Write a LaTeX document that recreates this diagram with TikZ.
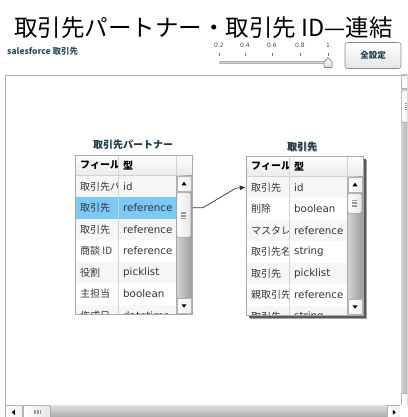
\documentclass[tikz,border=0pt]{standalone}
\usepackage{fontspec}
\setmainfont{DejaVu Sans}
\newfontfamily\jp{Noto Sans CJK JP}
\usetikzlibrary{arrows.meta,calc}
\definecolor{bordr}{HTML}{A8A8A8}
\definecolor{gridc}{HTML}{D2D2D2}
\definecolor{hilite}{HTML}{7CC9F5}
\definecolor{txt}{HTML}{333333}
\definecolor{ttl}{HTML}{1E3A48}
\definecolor{sfc}{HTML}{2B4F5F}
\definecolor{rowodd}{HTML}{F6F6F6}
\definecolor{sbL}{HTML}{D6D6D6}
\definecolor{sbM}{HTML}{BDBDBD}
\definecolor{sbR}{HTML}{9C9C9C}
\tikzset{
  jpcell/.style={anchor=west, inner sep=0pt, font=\jp\fontsize{10}{12}\selectfont, text=txt},
  lacell/.style={anchor=west, inner sep=0pt, font=\fontsize{10.3}{12}\selectfont, text=txt},
  hdrtxt/.style={anchor=west, inner sep=0pt, font=\jp\bfseries\fontsize{10}{12}\selectfont, text=black},
  rowbox/.style={inner sep=0pt, minimum width=101pt, minimum height=21.5pt, draw=none},
  tblframe/.style={inner sep=0pt, draw=bordr, line width=0.8pt, fill=white},
  hdrbox/.style={inner sep=0pt, minimum width=117pt, minimum height=20.5pt, top color=white, bottom color=black!8, draw=none},
  sbbtn/.style={inner sep=0pt, minimum width=14.5pt, minimum height=15pt, draw=black!30, line width=0.5pt, left color=white, right color=black!6},
  thumbbox/.style={inner sep=0pt, minimum width=14pt, draw=black!40, line width=0.5pt, rounded corners=1.5pt, left color=white, right color=black!10},
  grip/.style={draw=black!40, line width=0.5pt},
  conn/.style={draw=black!80, line width=0.7pt, -{Latex[length=6pt,width=5pt]}},
  tbltitle/.style={inner sep=0pt, font=\jp\bfseries\fontsize{10}{12}\selectfont, text=ttl},
  slab/.style={inner sep=0pt, font=\fontsize{6}{7}\selectfont, text=black!70},
}
\begin{document}
\begin{tikzpicture}[x=1pt,y=-1pt]
\clip (0,0) rectangle (407,417);
\fill[white] (0,0) rectangle (407,417);

% ---------- header area ----------
\node[inner sep=0pt, anchor=west, font=\jp\fontsize{23.5}{26}\selectfont] (title) at (14,27.5) {取引先パートナー・取引先 ID—連結};
\node[inner sep=0pt, anchor=west, font=\jp\bfseries\fontsize{8.5}{10}\selectfont, text=sfc] (sf) at (7,51) {salesforce 取引先};

% slider
\foreach \x/\l [count=\k] in {219/0.2,245/0.4,272/0.6,300/0.8,328/1}{
  \node[slab] (sl\k) at (\x,45.5) {\l};
  \draw[black!55, line width=0.6pt] (\x,53) -- (\x,56);
}
\draw[line width=3pt, line cap=round, black!30] (220,63) -- (328,63);
\draw[line width=1.2pt, line cap=round, black!18] (220,62.3) -- (328,62.3);
\filldraw[draw=black!55, line width=0.5pt, top color=white, bottom color=black!15] (324,67.5) -- (324,62) -- (328,57.5) -- (332,62) -- (332,67.5) -- cycle;

% button
\node[inner sep=0pt, minimum width=56pt, minimum height=26pt, rounded corners=2.5pt, draw=black!45, line width=0.6pt, top color=white, bottom color=black!10, font=\jp\bfseries\fontsize{8.5}{10}\selectfont, text=ttl] (btn) at (373,55.5) {全設定};

% ---------- panel ----------
\draw[black!32, line width=0.8pt] (5,417) -- (5,75) -- (401,75);

% right scrollbar
\fill[left color=sbL, right color=sbR] (401,75) rectangle (412,405);
\node[sbbtn, anchor=north west, minimum width=11pt, minimum height=13pt] (vup) at (401,75) {};
\node[thumbbox, anchor=north west, minimum width=11pt, minimum height=32pt] (vth) at (401,90) {};
\foreach \d in {-3,-1,1,3}{\draw[grip] ($(vth.center)+(-2,\d)$) -- ++(4,0);}
\node[sbbtn, anchor=north west, minimum width=11pt, minimum height=12pt] (vdn) at (401,393) {};

% bottom scrollbar
\fill[top color=black!12, bottom color=black!38] (5,405) rectangle (400,420);
\node[sbbtn, anchor=north west, minimum width=17pt, minimum height=14pt] (hl) at (5,405) {};
\fill[black] ($(hl.center)+(-2,0)$) -- ++(3,-2.5) -- ++(0,5) -- cycle;
\node[thumbbox, anchor=north west, minimum width=27pt, minimum height=14pt] (hth) at (23,405) {};
\foreach \d in {-3,-1.5,0,1.5,3}{\draw[grip] ($(hth.center)+(\d,-2)$) -- ++(0,4);}
\node[sbbtn, anchor=north west, minimum width=13pt, minimum height=14pt] (hr) at (387,405) {};
\fill[black] ($(hr.center)+(2,0)$) -- ++(-3,-2.5) -- ++(0,5) -- cycle;
\fill[white] (400,405) rectangle (412,420);

% ---------- table 1 ----------
\node[tbltitle] (t1title) at (133,145) {取引先パートナー};
\begin{scope}[shift={(75,155)}]
  \node[tblframe, minimum width=117pt, minimum height=159pt, anchor=north west] (t1) at (0,0) {};
  \begin{scope}
    \clip (0,0) rectangle (117,159);
    \node[hdrbox, anchor=north west] (t1h) at (0,0) {};
    \foreach \i/\a/\b/\f in {1/取引先パ/id/rowodd, 2/取引先/reference/hilite, 3/取引先/reference/rowodd, 4/{商談 ID}/reference/white, 5/役割/picklist/rowodd, 6/主担当/boolean/white, 7/作成日/datetime/rowodd}{
      \pgfmathsetmacro\yc{20.5+21.5*(\i-1)+10.75}
      \node[rowbox, fill=\f] (t1r\i) at (50.5,\yc) {};
      \begin{scope}\clip (0,20.5) rectangle (42.5,159);
        \node[jpcell] (t1a\i) at (5,\yc) {\a};
      \end{scope}
      \begin{scope}\clip (43,20.5) rectangle (100.5,159);
        \node[lacell] (t1b\i) at (48,\yc) {\b};
      \end{scope}
    }
    \begin{scope}\clip (0,0) rectangle (42.5,20.5);
      \node[hdrtxt] (t1hA) at (5,10.5) {フィール};
    \end{scope}
    \node[hdrtxt] (t1hB) at (48,10.5) {型};
    \draw[gridc, line width=0.6pt] (0,20.5) -- (117,20.5);
    \draw[gridc, line width=0.6pt] (43,0) -- (43,159);
    \draw[gridc, line width=0.6pt] (101,0) -- (101,20.5);
    % scrollbar
    \fill[left color=sbL, middle color=sbM, right color=sbR] (101,20.5) rectangle (117,159);
    \draw[black!35, line width=0.5pt] (101,20.5) -- (101,159);
    \node[sbbtn, anchor=north west] (t1up) at (101.5,21) {};
    \fill[black] ($(t1up.center)+(0,-2)$) -- ++(2.5,3.5) -- ++(-5,0) -- cycle;
    \node[thumbbox, anchor=north west, minimum height=45pt] (t1th) at (101.5,37) {};
    \foreach \d in {-3,-1.5,0,1.5,3}{\draw[grip] ($(t1th.center)+(-2.5,\d)$) -- ++(5,0);}
    \node[sbbtn, anchor=south west] (t1dn) at (101.5,158.5) {};
    \fill[black] ($(t1dn.center)+(0,2)$) -- ++(2.5,-3.5) -- ++(-5,0) -- cycle;
  \end{scope}
  \draw[bordr, line width=0.8pt] (t1.north west) rectangle (t1.south east);
\end{scope}

% ---------- table 2 ----------
\node[tbltitle, text=black!35] (t2shadow) at (302.8,147.8) {取引先};
\node[tbltitle] (t2title) at (302,147) {取引先};
\begin{scope}[shift={(246,156)}]
  \fill[black!35] (4,4) rectangle (121,163);
  \fill[black!65] (2.5,2.5) rectangle (119.5,161.5);
  \node[tblframe, minimum width=117pt, minimum height=159pt, anchor=north west] (t2) at (0,0) {};
  \begin{scope}
    \clip (0,0) rectangle (117,159);
    \node[hdrbox, anchor=north west] (t2h) at (0,0) {};
    \foreach \i/\a/\b/\f in {1/取引先/id/rowodd, 2/削除/boolean/white, 3/マスタレ/reference/rowodd, 4/取引先名/string/white, 5/取引先/picklist/rowodd, 6/親取引先/reference/white, 7/取引先/string/rowodd}{
      \pgfmathsetmacro\yc{20.5+21.5*(\i-1)+10.75}
      \node[rowbox, fill=\f] (t2r\i) at (50.5,\yc) {};
      \begin{scope}\clip (0,20.5) rectangle (42.5,159);
        \node[jpcell] (t2a\i) at (5,\yc) {\a};
      \end{scope}
      \begin{scope}\clip (43,20.5) rectangle (100.5,159);
        \node[lacell] (t2b\i) at (48,\yc) {\b};
      \end{scope}
    }
    \begin{scope}\clip (0,0) rectangle (42.5,20.5);
      \node[hdrtxt] (t2hA) at (5,10.5) {フィール};
    \end{scope}
    \node[hdrtxt] (t2hB) at (48,10.5) {型};
    \draw[gridc, line width=0.6pt] (0,20.5) -- (117,20.5);
    \draw[gridc, line width=0.6pt] (43,0) -- (43,159);
    \draw[gridc, line width=0.6pt] (101,0) -- (101,20.5);
    \fill[left color=sbL, middle color=sbM, right color=sbR] (101,20.5) rectangle (117,159);
    \draw[black!35, line width=0.5pt] (101,20.5) -- (101,159);
    \node[sbbtn, anchor=north west] (t2up) at (101.5,21) {};
    \fill[black] ($(t2up.center)+(0,-2)$) -- ++(2.5,3.5) -- ++(-5,0) -- cycle;
    \node[thumbbox, anchor=north west, minimum height=20pt] (t2th) at (101.5,37) {};
    \foreach \d in {-3,-1.5,0,1.5,3}{\draw[grip] ($(t2th.center)+(-2.5,\d)$) -- ++(5,0);}
    \node[sbbtn, anchor=south west] (t2dn) at (101.5,158.5) {};
    \fill[black] ($(t2dn.center)+(0,2)$) -- ++(2.5,-3.5) -- ++(-5,0) -- cycle;
  \end{scope}
  \draw[bordr, line width=0.8pt] (t2.north west) rectangle (t2.south east);
\end{scope}

% ---------- connector ----------
\coordinate (cA) at ($(t1r2 -| t1.east)+(10,0)$);
\coordinate (cB) at ($(t2r1.west)+(-10,1)$);
\draw[conn] (t1r2 -| t1.east) -- (cA) -- (cB) -- (t2r1.west);
\end{tikzpicture}
\end{document}
